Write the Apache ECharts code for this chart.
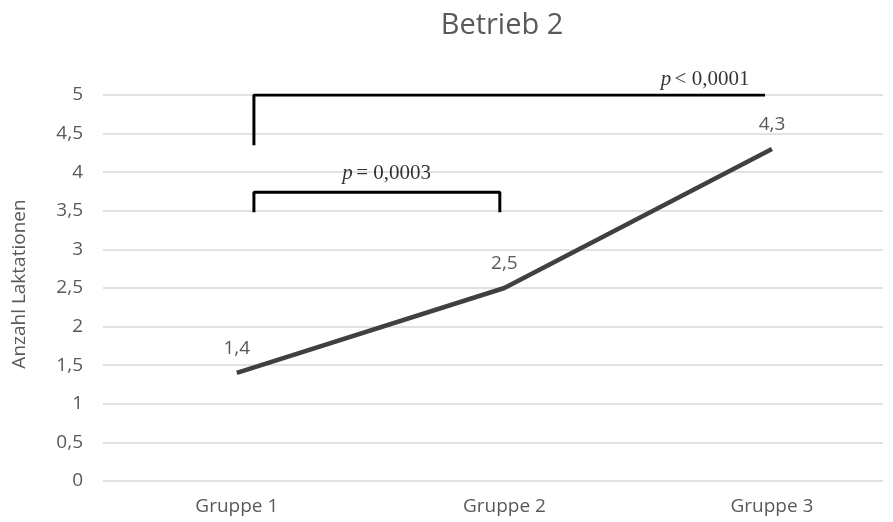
<!DOCTYPE html>
<html><head><meta charset="utf-8">
<script src="https://cdn.jsdelivr.net/npm/echarts@6/dist/echarts.min.js"></script>
<style>html,body{margin:0;padding:0;background:#fff}#c{width:893px;height:522px}</style>
</head><body><div id="c"></div>
<script>
const title = 'Betrieb 2';
const yName = 'Anzahl Laktationen';
const categories = ['Gruppe 1', 'Gruppe 2', 'Gruppe 3'];
const values = [1.4, 2.5, 4.3];
const valueLabels = ['1,4', '2,5', '4,3'];
// significance brackets in data units [categoryIndex, value]
const bracketLong = [[0.064, 4.35], [0.064, 5], [1.974, 5]];
const bracketShort = [[0.064, 3.48], [0.064, 3.74], [0.983, 3.74], [0.983, 3.48]];
const pLabels = [
  {pos: [0.56, 3.98], op: '= 0,0003'},
  {pos: [1.75, 5.2], op: '< 0,0001'}
];

const fmt = v => String(v).replace('.', ',');
const chart = echarts.init(document.getElementById('c'));
const gray = '#595959';
const font = 'Open Sans';
const fs = 19;
chart.setOption({
  animation: false,
  title: {text: title, left: 497, top: 6, textAlign: 'center',
    textStyle: {fontFamily: font, fontSize: 29, fontWeight: 'normal', color: gray}},
  grid: {left: 103, width: 780, top: 95, bottom: 41},
  xAxis: {type: 'value', min: -0.5, max: 2.415, interval: 0.5,
    axisLine: {show: false}, axisTick: {show: false}, splitLine: {show: false},
    axisLabel: {margin: 16, fontFamily: font, fontSize: fs, color: gray,
      formatter: v => (Number.isInteger(v) && v >= 0 && v < categories.length) ? categories[v] : ''}},
  yAxis: {type: 'value', min: 0, max: 5, interval: 0.5,
    axisLine: {show: false}, axisTick: {show: false},
    splitLine: {lineStyle: {color: '#d9d9d9', width: 1.5}},
    axisLabel: {margin: 20, fontFamily: font, fontSize: fs, color: gray, formatter: fmt}},
  graphic: [{type: 'text', x: 20, y: 284, rotation: Math.PI / 2,
    style: {text: yName, fontFamily: font, fontSize: fs, fill: gray, align: 'center', verticalAlign: 'middle'}}],
  series: [
    {type: 'line', data: values.map((v, i) => [i, v]), symbol: 'circle', symbolSize: 0, showSymbol: true,
      lineStyle: {color: '#404040', width: 4.5}, itemStyle: {color: '#404040'},
      label: {show: true, position: 'top', distance: 15, fontFamily: font, fontSize: fs, color: gray,
        formatter: p => valueLabels[p.dataIndex]}, z: 3},
    {type: 'line', data: bracketLong, symbol: 'none', lineStyle: {color: '#000', width: 3}, z: 4},
    {type: 'line', data: bracketShort, symbol: 'none', lineStyle: {color: '#000', width: 3}, z: 4},
    {type: 'scatter', symbolSize: 0, clip: false, data: pLabels.map(p => p.pos), z: 5,
      label: {show: true, position: 'inside', formatter: p => '{i|p} {n|' + pLabels[p.dataIndex].op + '}',
        rich: {i: {fontFamily: 'Liberation Serif', fontStyle: 'italic', fontSize: 21, color: '#000'},
               n: {fontFamily: 'Liberation Serif', fontSize: 21, color: '#000'}}}}
  ]
});
</script></body></html>
